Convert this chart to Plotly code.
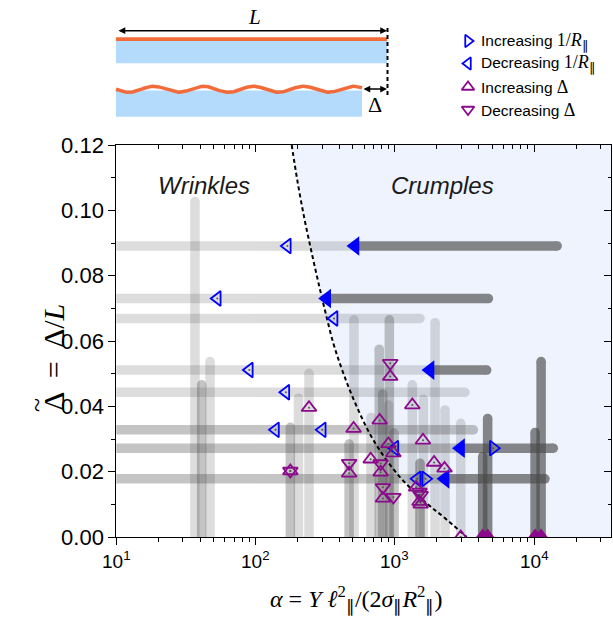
import numpy as np
import plotly.graph_objects as go

# ---------------- data ----------------
# horizontal bars (rows): Delta level, left end, light end / arrow position, dark shaft end
row_delta = [0.0891, 0.0730, 0.0669, 0.0511, 0.0443, 0.0328, 0.0272, 0.0178]
row_lo = [5, 5, 5, 5, 5, 5, 5, 5]
row_mid = [517, 324, 1514, 1787, 3183, 3658, 2960, 2290]
row_hi = [14600, 4690, None, 4560, None, None, 13700, 11940]

# vertical bars (columns): alpha position and top Delta
col_alpha = [36.7, 41.0, 47.1, 177.5, 203, 241.7, 469, 508, 673, 772, 817, 900, 912,
             986, 1333, 1514, 1600, 1942, 2290, 2967, 4264, 4630, 10140, 11200]
col_top = [0.1027, 0.0466, 0.0537, 0.0336, 0.0425, 0.0501, 0.0285, 0.0665, 0.0366, 0.0575,
           0.0438, 0.0404, 0.0665, 0.0318, 0.0466, 0.0226, 0.0422, 0.0656, 0.0389, 0.0348,
           0.0246, 0.0363, 0.0320, 0.0537]

# markers
dec_R_x = [169, 53.1, 366, 90.2, 165, 139, 301, 1000, 1445]
dec_R_y = [0.0891, 0.0730, 0.0669, 0.0511, 0.0443, 0.0328, 0.0328, 0.0272, 0.0178]
inc_R_x = [5080, 1660]
inc_R_y = [0.0272, 0.0178]
inc_D_x = [177.5, 241.7, 505, 469, 925, 1333, 777, 1590, 898, 975, 670, 1910, 2270, 790,
           820, 1420, 1500, 1530, 2967]
inc_D_y = [0.0202, 0.0396, 0.0332, 0.0195, 0.0491, 0.0404, 0.0357, 0.0296, 0.0285, 0.0257,
           0.0238, 0.0228, 0.0210, 0.0198, 0.0118, 0.0152, 0.0108, 0.0100, 0.0]
dec_D_x = [177.5, 469, 925, 790, 820, 975, 1500, 1530]
dec_D_y = [0.0202, 0.0226, 0.0532, 0.0225, 0.0152, 0.0122, 0.0138, 0.0128]
vert_arrow_x = [4264, 4630, 10140, 11200]

# wrinkle / crumple boundary
bound_alpha = [181.6, 199.5, 223.9, 251.2, 281.8, 316.2, 363.1, 426.6, 532.1, 699.8,
               1030, 1690, 2223, 3273]
bound_delta = [0.120, 0.109, 0.0975, 0.0875, 0.0780, 0.0690, 0.0590, 0.0501, 0.0399,
               0.0297, 0.0195, 0.0103, 0.0062, 0.0]

# tick labels
x_tick_vals = [10, 100, 1000, 10000]
x_tick_text = ['10<sup>1</sup>', '10<sup>2</sup>', '10<sup>3</sup>', '10<sup>4</sup>']
x_minor_vals = [m * v for v in x_tick_vals for m in range(2, 10)]

# ---------------- styles ----------------
W, H = 613, 618
PL, PR, PT, PB = 116.3, 611.0, 145.0, 537.0
XR = [1, 4.551]
YR = [0, 0.12]
GRAY = '#4a4a4a'
A_LIGHT, A_MED, A_DARK2, A_DARK = 0.19, 0.32, 0.45, 0.65
row_shade = [A_LIGHT, A_LIGHT, A_LIGHT, A_LIGHT, A_LIGHT, A_MED, A_MED, A_MED]
col_shade = [A_LIGHT, A_MED, A_LIGHT, A_MED, A_LIGHT, A_LIGHT, A_MED, A_LIGHT, A_LIGHT,
             A_MED, A_MED, A_LIGHT, A_MED, A_MED, A_LIGHT, A_DARK2, A_LIGHT, A_LIGHT,
             A_LIGHT, A_LIGHT, A_DARK, A_DARK, A_DARK, A_DARK]
BLUE = '#0000ff'
PURPLE = '#8b0a8b'
BW = 9.5
SANS = 'Liberation Sans'
SERIF = 'Liberation Serif'
PAR = '∥'

fig = go.Figure()

# crumple region fill
fig.add_trace(go.Scatter(
    x=bound_alpha + [1e5, 1e5], y=bound_delta + [0.0, 0.12],
    mode='lines', fill='toself', fillcolor='#eef3fe', line=dict(width=0),
    hoverinfo='skip', showlegend=False))


def bar(xs, ys, alpha):
    fig.add_trace(go.Scatter(
        x=xs, y=ys, mode='lines+markers',
        line=dict(color=GRAY, width=BW),
        marker=dict(size=BW, color=GRAY, line=dict(width=0)),
        opacity=alpha, hoverinfo='skip', showlegend=False))


for a, t, s in zip(col_alpha, col_top, col_shade):
    bar([a, a], [-0.01, t], s)
for d, lo, mid, hi, s in zip(row_delta, row_lo, row_mid, row_hi, row_shade):
    bar([lo, mid], [d, d], s)
for d, mid, hi in zip(row_delta, row_mid, row_hi):
    if hi is not None:
        bar([mid, hi], [d, d], A_DARK)

# boundary curve
fig.add_trace(go.Scatter(x=bound_alpha, y=bound_delta, mode='lines',
                         line=dict(color='black', width=2, dash='4px,3px', shape='spline'),
                         hoverinfo='skip', showlegend=False))

# arrow heads
arr_x = [m for m, h in zip(row_mid, row_hi) if h is not None]
arr_y = [d for d, h in zip(row_delta, row_hi) if h is not None]
fig.add_trace(go.Scatter(x=arr_x, y=arr_y, mode='markers',
                         marker=dict(symbol='triangle-left', size=17, color=BLUE, line=dict(width=0)),
                         hoverinfo='skip', showlegend=False))
fig.add_trace(go.Scatter(x=vert_arrow_x, y=[0] * len(vert_arrow_x), mode='markers',
                         marker=dict(symbol='triangle-up', size=17, color=PURPLE, line=dict(width=0)),
                         hoverinfo='skip', showlegend=False))


def open_markers(xs, ys, sym, col):
    fig.add_trace(go.Scatter(x=xs, y=ys, mode='markers',
                             marker=dict(symbol=sym, size=13, color='rgba(0,0,0,0)',
                                         line=dict(color=col, width=1.8)),
                             hoverinfo='skip', showlegend=False))


open_markers(dec_R_x, dec_R_y, 'triangle-left', BLUE)
open_markers(inc_R_x, inc_R_y, 'triangle-right', BLUE)
open_markers(inc_D_x, inc_D_y, 'triangle-up', PURPLE)
open_markers(dec_D_x, dec_D_y, 'triangle-down', PURPLE)
fig.add_trace(go.Scatter(x=dec_R_x + inc_R_x + inc_D_x + dec_D_x,
                         y=dec_R_y + inc_R_y + inc_D_y + dec_D_y, mode='markers',
                         marker=dict(size=2, color='#555555'),
                         hoverinfo='skip', showlegend=False))

# dummy traces for extra tick axes (mirrored top/right, minor x ticks)
for xa, ya in [('x3', 'y3'), ('x4', 'y'), ('x5', 'y3')]:
    fig.add_trace(go.Scatter(x=[None], y=[None], xaxis=xa, yaxis=ya, showlegend=False))

# ---------- pixel overlay (schematic, legend, titles) ----------
PX = dict(xref='x2', yref='y2')
# wave for the compressed sheet (decorative schematic)
wx = np.linspace(116, 362, 300)
wy = 89.3 + 3.0 * np.sin(2 * np.pi * (wx - 116) / 50.0)
fig.add_trace(go.Scatter(x=wx, y=wy, xaxis='x2', yaxis='y2', mode='lines',
                         line=dict(color='#f26b3a', width=3.5), hoverinfo='skip',
                         showlegend=False))

leg_y = [41, 63.5, 87, 109.5]
leg_sym = ['triangle-right', 'triangle-left', 'triangle-up', 'triangle-down']
leg_col = [BLUE, BLUE, PURPLE, PURPLE]
math = '<span style="font-family:%s;font-size:18px">1/<i>R</i><sub>%s</sub></span>' % (SERIF, PAR)
leg_txt = ['Increasing ' + math, 'Decreasing ' + math,
           'Increasing <span style="font-family:%s;font-size:18px">Δ</span>' % SERIF,
           'Decreasing <span style="font-family:%s;font-size:18px">Δ</span>' % SERIF]
for yy, sy, cc in zip(leg_y, leg_sym, leg_col):
    fig.add_trace(go.Scatter(x=[468], y=[yy], xaxis='x2', yaxis='y2', mode='markers',
                             marker=dict(symbol=sy, size=11, color='rgba(0,0,0,0)',
                                         line=dict(color=cc, width=1.8)),
                             hoverinfo='skip', showlegend=False))

shapes = [
    dict(type='rect', x0=116, x1=387, y0=40.7, y1=63.3, fillcolor='#b5dbfc', line=dict(width=0), layer='below', **PX),
    dict(type='rect', x0=116, x1=387, y0=37.3, y1=40.9, fillcolor='#f26b3a', line=dict(width=0), layer='below', **PX),
    dict(type='rect', x0=116, x1=362, y0=90.5, y1=116.7, fillcolor='#b5dbfc', line=dict(width=0), layer='below', **PX),
    dict(type='line', x0=387.5, x1=387.5, y0=28, y1=98, line=dict(color='black', width=2, dash='4px,3px'), **PX),
]

xtitle = ('<i>α</i> = <i>Y</i> <i>ℓ</i><sup>2</sup><sub>{p}</sub>/(2<i>σ</i><sub>{p}</sub>'
          '<i>R</i><sup>2</sup><sub>{p}</sub>)').format(p=PAR)
annotations = [
    dict(x=387, y=30.7, ax=117, ay=30.7, axref='x2', ayref='y2', showarrow=True, arrowhead=2,
         arrowside='end+start', arrowsize=0.9, arrowwidth=1.5, arrowcolor='black', text='', **PX),
    dict(x=387, y=89, ax=362, ay=89, axref='x2', ayref='y2', showarrow=True, arrowhead=2,
         arrowside='end+start', arrowsize=0.9, arrowwidth=1.5, arrowcolor='black', text='', **PX),
    dict(x=254, y=17, text='<i>L</i>', showarrow=False, font=dict(family=SERIF, size=21, color='black'), **PX),
    dict(x=375, y=104, text='Δ', showarrow=False, font=dict(family=SERIF, size=22, color='black'), **PX),
    dict(x=204, y=185, text='<i>Wrinkles</i>', showarrow=False, font=dict(family=SANS, size=24, color='#1a1a1a'), **PX),
    dict(x=442, y=185, text='<i>Crumples</i>', showarrow=False, font=dict(family=SANS, size=24, color='#1a1a1a'), **PX),
    # y-axis title: Delta-tilde = Delta / L (tilde drawn separately above the first Delta)
    dict(x=53, y=358, text='Δ  =  Δ/<i>L</i>', textangle=-90, showarrow=False,
         font=dict(family=SERIF, size=30, color='black'), **PX),
    dict(x=36, y=405, text='~', textangle=-90, showarrow=False,
         font=dict(family=SERIF, size=26, color='black'), **PX),
    dict(x=356, y=599, text=xtitle, showarrow=False,
         font=dict(family=SERIF, size=24, color='black'), **PX),
]
# x tick labels (log axis: annotation x is log10 of the value)
for v, t in zip(x_tick_vals, x_tick_text):
    annotations.append(dict(x=float(np.log10(v)), xref='x', y=546, yref='y2', yanchor='top',
                            text=t, showarrow=False,
                            font=dict(family=SANS, size=19, color='black')))
for yy, tt in zip(leg_y, leg_txt):
    annotations.append(dict(x=479, y=yy, text=tt, xanchor='left', showarrow=False,
                            font=dict(family=SANS, size=15.5, color='black'), **PX))

xd = [PL / W, PR / W]
yd = [(H - PB) / H, (H - PT) / H]
axis_common = dict(showgrid=False, zeroline=False, showline=True, linecolor='black', linewidth=1,
                   tickcolor='black', ticklen=7, tickwidth=1)
minor_common = dict(showgrid=False, zeroline=False, showline=False, tickcolor='black',
                    ticklen=4, tickwidth=1, showticklabels=False)

fig.update_layout(
    width=W, height=H, template='none',
    margin=dict(l=0, r=0, t=0, b=0),
    paper_bgcolor='white', plot_bgcolor='rgba(0,0,0,0)',
    showlegend=False,
    xaxis=dict(type='log', range=XR, domain=xd, anchor='y', ticks='outside',
               tickmode='array', tickvals=x_tick_vals, showticklabels=False,
               **axis_common),
    xaxis4=dict(type='log', range=XR, overlaying='x', anchor='y', side='bottom', ticks='outside',
                tickmode='array', tickvals=x_minor_vals, **minor_common),
    yaxis=dict(range=YR, domain=yd, anchor='x', ticks='outside', dtick=0.02, tickformat='.2f',
               tickfont=dict(family=SANS, size=22, color='black'),
               minor=dict(ticks='outside', ticklen=4, dtick=0.01, tickcolor='black', showgrid=False),
               **axis_common),
    xaxis3=dict(type='log', range=XR, overlaying='x', anchor='y3', side='top', ticks='inside',
                tickmode='array', tickvals=x_tick_vals, showticklabels=False,
                **axis_common),
    xaxis5=dict(type='log', range=XR, overlaying='x', anchor='y3', side='top', ticks='inside',
                tickmode='array', tickvals=x_minor_vals, **dict(minor_common, ticklen=3.5)),
    yaxis3=dict(range=YR, overlaying='y', anchor='x3', side='right', ticks='inside', dtick=0.02,
                showticklabels=False,
                minor=dict(ticks='inside', ticklen=3.5, dtick=0.01, tickcolor='black', showgrid=False),
                **axis_common),
    xaxis2=dict(domain=[0, 1], range=[0, W], anchor='y2', visible=False, fixedrange=True),
    yaxis2=dict(domain=[0, 1], range=[H, 0], anchor='x2', visible=False, fixedrange=True),
    shapes=shapes, annotations=annotations,
)

fig.write_html('out.html')
